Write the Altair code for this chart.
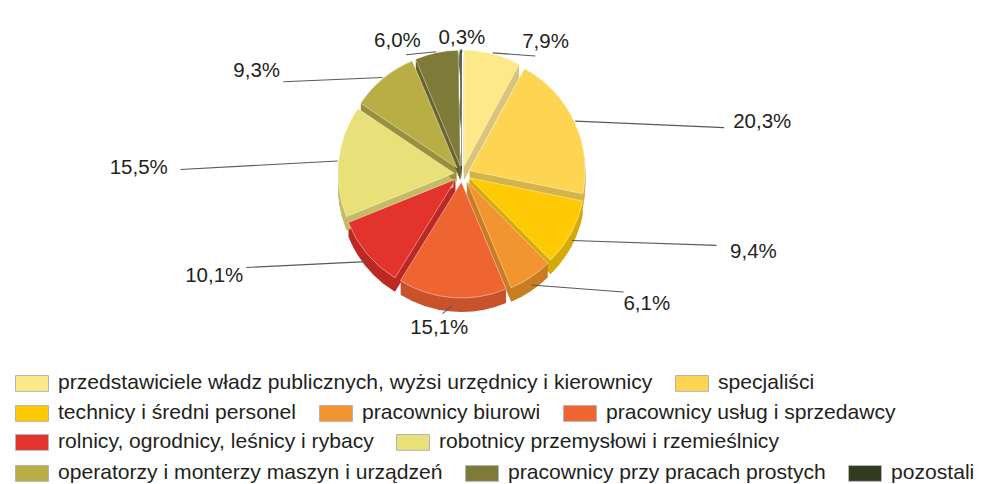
import math
import altair as alt
import pandas as pd

categories = [
    "przedstawiciele władz publicznych, wyżsi urzędnicy i kierownicy",
    "specjaliści",
    "technicy i średni personel",
    "pracownicy biurowi",
    "pracownicy usług i sprzedawcy",
    "rolnicy, ogrodnicy, leśnicy i rybacy",
    "robotnicy przemysłowi i rzemieślnicy",
    "operatorzy i monterzy maszyn i urządzeń",
    "pracownicy przy pracach prostych",
    "pozostali",
]
values = [7.9, 20.3, 9.4, 6.1, 15.1, 10.1, 15.5, 9.3, 6.0, 0.3]
value_labels = ["7,9%", "20,3%", "9,4%", "6,1%", "15,1%", "10,1%", "15,5%", "9,3%", "6,0%", "0,3%"]
top_colors = ["#FDE98A", "#FDD553", "#FFCA05", "#F29430", "#EE6532",
              "#E2332C", "#EAE07A", "#B9AE46", "#7E7A38", "#333A20"]
side_colors = ["#D9C47A", "#D4B446", "#D4AA0A", "#C97C20", "#C8522A",
               "#BC2925", "#C5BB65", "#99903A", "#66632E", "#262B17"]
legend_rows = [[0, 1], [2, 3, 4], [5, 6], [7, 8, 9]]

df = pd.DataFrame({"cat": categories, "value": values, "label": value_labels,
                   "order": list(range(len(values)))})

W, H = 969, 480
CX, CY = 454, 166        # pie centre (plot px)
R = 116                  # pie radius
EXPL = 8                 # explode offset
DEPTH = 14               # pseudo-3D thickness
LCX, LCY = 457, 175      # label ellipse centre
LA, LB = 328, 145        # label ellipse semi-axes
FONT = "Liberation Sans"
TXT = "#231F20"

base = (
    alt.Chart(df)
    .transform_window(cum="sum(value)", sort=[alt.SortField("order")])
    .transform_calculate(start="datum.cum - datum.value")
    .transform_calculate(mid="(datum.start + datum.value / 2) / 100 * 2 * PI")
    .transform_calculate(
        px=f"{CX} + {EXPL} * sin(datum.mid)",
        py=f"{CY} - {EXPL} * cos(datum.mid)",
    )
)

theta = alt.Theta("start:Q", scale=alt.Scale(domain=[0, 100], range=[0, 2 * math.pi]), stack=False)
theta2 = alt.Theta2("cum:Q")
xpos = alt.X("px:Q", scale=None, axis=None)

depth = (
    base.transform_calculate(offs=f"sequence(1, {DEPTH + 1})")
    .transform_flatten(["offs"])
    .transform_calculate(pyd="datum.py + datum.offs")
    .mark_arc(outerRadius=R)
    .encode(
        x=xpos,
        y=alt.Y("pyd:Q", scale=None, axis=None),
        theta=theta, theta2=theta2,
        color=alt.Color("cat:N", scale=alt.Scale(domain=categories, range=side_colors), legend=None),
    )
)

top = base.mark_arc(outerRadius=R, stroke="#ffffff", strokeWidth=0.6, strokeOpacity=0.7).encode(
    x=xpos,
    y=alt.Y("py:Q", scale=None, axis=None),
    theta=theta, theta2=theta2,
    color=alt.Color("cat:N", scale=alt.Scale(domain=categories, range=top_colors), legend=None),
    order=alt.Order("order:Q"),
)

lab = base.transform_calculate(
    lx=f"{LCX} + {LA} * sin(datum.mid)",
    ly=f"{LCY} - {LB} * cos(datum.mid)",
    ex=f"{CX} + {R + EXPL + 1} * sin(datum.mid)",
    ey=f"{CY} - {R + EXPL + 1} * cos(datum.mid) + {DEPTH / 2} * (cos(datum.mid) < 0 ? 1 : 0)",
    ix=f"{LCX} + {LA - 42} * sin(datum.mid)",
    iy=f"{LCY} - {LB - 14} * cos(datum.mid)",
)

leaders = lab.mark_rule(color="#58595B", strokeWidth=1.1).encode(
    x=alt.X("ex:Q", scale=None, axis=None),
    y=alt.Y("ey:Q", scale=None, axis=None),
    x2=alt.X2("ix:Q"),
    y2=alt.Y2("iy:Q"),
)

texts = lab.mark_text(font=FONT, fontSize=20.5, color=TXT, align="center", baseline="middle").encode(
    x=alt.X("lx:Q", scale=None, axis=None),
    y=alt.Y("ly:Q", scale=None, axis=None),
    text="label:N",
)

legend_layers = []
row_y = [358, 388, 417, 448]
for ri, idxs in enumerate(legend_rows):
    cats = [categories[i] for i in idxs]
    cols = [top_colors[i] for i in idxs]
    legend_layers.append(
        alt.Chart(df)
        .transform_filter(alt.FieldOneOfPredicate(field="cat", oneOf=cats))
        .mark_square(size=10)
        .encode(
            x=alt.value(-500),
            y=alt.value(-500),
            color=alt.Color(
                "cat:N",
                scale=alt.Scale(domain=cats, range=cols),
                sort=cats,
                legend=alt.Legend(
                    orient="none", legendX=7, legendY=row_y[ri], direction="horizontal",
                    title=None, symbolType="M-1,-0.48H1V0.48H-1Z", symbolSize=1089,
                    symbolOpacity=1, symbolStrokeColor="#B4B4B4", symbolStrokeWidth=1,
                    labelFont=FONT, labelFontSize=21.1, labelColor=TXT, labelLimit=0,
                    labelOffset=9, columnPadding=20,
                ),
            ),
        )
    )

chart = (
    alt.layer(depth, top, leaders, texts, *legend_layers)
    .resolve_scale(color="independent")
    .properties(width=W, height=H, padding=0, autosize=alt.AutoSizeParams(type="none"),
                background="#ffffff")
    .configure_view(stroke=None)
)

chart.save("out.html", embed_options={"renderer": "svg", "actions": False})
